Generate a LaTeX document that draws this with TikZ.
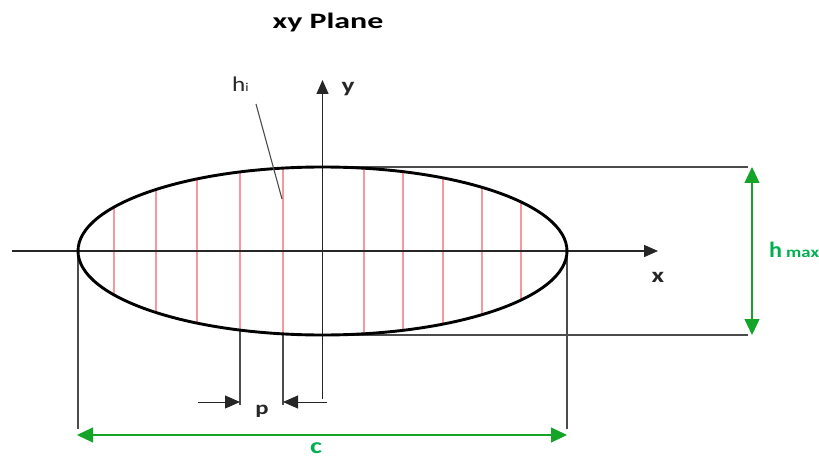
\documentclass[tikz,border=0pt]{standalone}
\usepackage{fontspec}
\usepackage{graphicx}
\setmainfont{Carlito}
\usetikzlibrary{arrows.meta}
\definecolor{dimgreen}{RGB}{20,165,40}
\definecolor{txtgreen}{RGB}{0,176,80}
\definecolor{pinkred}{RGB}{250,150,160}
\newcommand{\widetext}[2]{\scalebox{#1}[1]{#2}}
\tikzset{
  axisline/.style={line width=1.4pt, draw=black!85, -{Triangle[length=14pt,width=12pt]}},
  extline/.style={line width=1.2pt, draw=black!70},
  redline/.style={line width=1.5pt, draw=pinkred},
  greendim/.style={line width=1.2pt, draw=dimgreen, {Triangle[length=16pt,width=15pt,fill=dimgreen]}-{Triangle[length=16pt,width=15pt,fill=dimgreen]}},
  parrow/.style={line width=1pt, draw=black!85, -{Triangle[length=15pt,width=13pt]}},
  lbl/.style={font=\bfseries\fontsize{21}{24}\selectfont, text=black!85, inner sep=0pt},
}
\begin{document}
\begin{tikzpicture}[x=1pt,y=-1pt]
\useasboundingbox (0,0) rectangle (819,457);
% key points
\coordinate (O) at (322.5,251);
\coordinate (xl) at (12,251);
\coordinate (xr) at (658,251);
\coordinate (yb) at (322.5,399);
\coordinate (yt) at (322.5,80);
\coordinate (L) at (78,251);
\coordinate (R) at (567,251);
\coordinate (T) at (322.5,167);
\coordinate (B) at (322.5,335);
% red lines
\foreach \xx in {114,156,197,240,283,364,403,443,482,521}{
  \pgfmathsetmacro{\hh}{84*sqrt(1-((\xx-322.5)/244.5)^2)}
  \draw[redline] (\xx,251-\hh) -- (\xx,251+\hh);
}
% extension lines
\coordinate (Te) at (748,167);
\coordinate (Be) at (748,335);
\draw[extline] (T) -- (Te);
\draw[extline] (B) -- (Be);
\coordinate (Ld) at (78,429);
\coordinate (Rd) at (567,429);
\draw[extline] (L) -- (Ld);
\draw[extline] (R) -- (Rd);
% p lines
\pgfmathsetmacro{\hA}{84*sqrt(1-((240-322.5)/244.5)^2)}
\pgfmathsetmacro{\hB}{84*sqrt(1-((283-322.5)/244.5)^2)}
\coordinate (pA) at (240,251+\hA);
\coordinate (pB) at (283,251+\hB);
\coordinate (pAd) at (240,405);
\coordinate (pBd) at (283,405);
\draw[extline] (pA) -- (pAd);
\draw[extline] (pB) -- (pBd);
% axes
\draw[axisline] (xl) -- (xr);
\draw[axisline] (yb) -- (yt);
% ellipse
\draw[line width=2.9pt, black] (O) ellipse [x radius=244.5, y radius=84];
% p arrows
\coordinate (pl) at (198,402);
\coordinate (pr) at (327,402);
\coordinate (pAa) at (240,402);
\coordinate (pBa) at (283,402);
\draw[parrow] (pl) -- (pAa);
\draw[parrow] (pr) -- (pBa);
\node[lbl, anchor=base, font=\bfseries\fontsize{19}{22}\selectfont] (plab) at (262,414) {\widetext{1.3}{p}};
% green dims
\coordinate (hT) at (752,167);
\coordinate (hB) at (752,335);
\draw[greendim] (hT) -- (hB);
\coordinate (cL) at (77,435);
\coordinate (cR) at (567,435);
\draw[greendim] (cL) -- (cR);
\node[inner sep=0pt, text=txtgreen, anchor=base west] (hmax) at (769,258)
  {\bfseries\fontsize{22}{24}\selectfont\widetext{1.1}{h}\hspace{4pt}\fontsize{15}{17}\selectfont\widetext{1.25}{max}};
\node[inner sep=0pt, text=txtgreen, anchor=base, font=\bfseries\fontsize{22}{24}\selectfont] (clab) at (316,453) {\widetext{1.3}{c}};
% axis labels
\node[lbl, anchor=base] (xlab) at (658,282) {\widetext{1.3}{x}};
\node[lbl, anchor=base] (ylab) at (348,93) {\widetext{1.3}{y}};
% h_i label
\node[inner sep=0pt, anchor=base west, text=black!85] (hi) at (232,92)
  {\fontsize{21}{24}\selectfont\widetext{1.2}{h}\fontsize{12}{14}\selectfont\widetext{1.2}{i}};
\coordinate (hiend) at (282,199);
\coordinate (histart) at (256,104);
\draw[line width=1.1pt, black!70] (histart) -- (hiend);
% title
\node[inner sep=0pt, anchor=base, font=\bfseries\fontsize{22}{25}\selectfont] (title) at (328,29) {\widetext{1.45}{xy Plane}};
\end{tikzpicture}
\end{document}
